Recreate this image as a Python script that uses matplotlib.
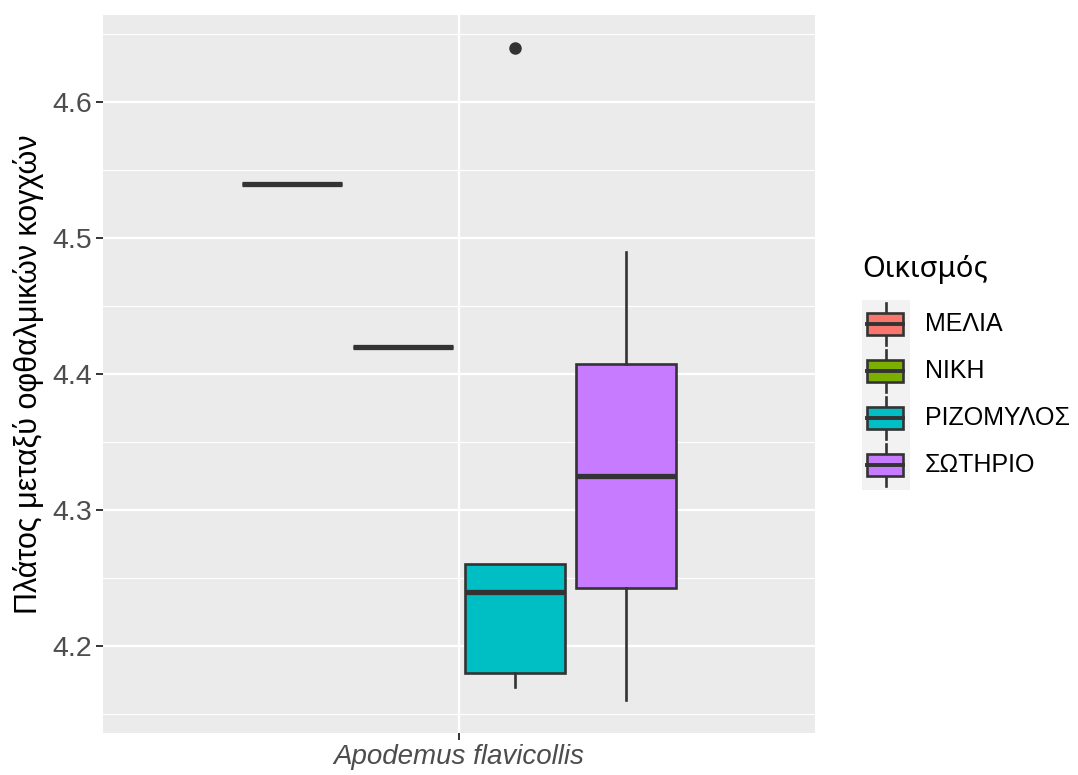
import matplotlib
matplotlib.use("Agg")
import matplotlib.pyplot as plt
from matplotlib.patches import Rectangle

plt.rcParams['font.family'] = ['Liberation Sans', 'DejaVu Sans']

# ---- data ----
category = "Apodemus flavicollis"
groups = ["ΜΕΛΙΑ", "ΝΙΚΗ", "ΡΙΖΟΜΥΛΟΣ", "ΣΩΤΗΡΙΟ"]
colors = ["#F8766D", "#7CAE00", "#00BFC4", "#C77CFF"]
whislo = [4.54, 4.42, 4.17, 4.16]
q1 = [4.54, 4.42, 4.18, 4.2425]
med = [4.54, 4.42, 4.24, 4.325]
q3 = [4.54, 4.42, 4.26, 4.4075]
whishi = [4.54, 4.42, 4.26, 4.49]
outliers = [[], [], [4.64], []]
yticks = [4.2, 4.3, 4.4, 4.5, 4.6]
ylabel = "Πλάτος μεταξύ οφθαλμικών κογχών"
legend_title = "Οικισμός"

W, H = 1078, 775
fig = plt.figure(figsize=(W / 100, H / 100), dpi=100)
fig.patch.set_facecolor("white")

def px_axes(x0, y0, x1, y1):
    return fig.add_axes([x0 / W, 1 - y1 / H, (x1 - x0) / W, (y1 - y0) / H])

ax = px_axes(103, 15, 815, 733)
ax.set_facecolor("#EBEBEB")
for s in ax.spines.values():
    s.set_visible(False)

ax.set_xlim(0.4, 1.6)
ax.set_ylim(4.136, 4.664)

# grid
for y in [4.15, 4.25, 4.35, 4.45, 4.55, 4.65]:
    ax.axhline(y, color="white", lw=0.8, zorder=0.5)
for y in yticks:
    ax.axhline(y, color="white", lw=1.6, zorder=0.6)
ax.axvline(1.0, color="white", lw=1.6, zorder=0.6)

n = len(groups)
dodge = 0.75 / n
offsets = [(i - (n - 1) / 2) * dodge for i in range(n)]
positions = [1 + o for o in offsets]
stats = []
for i in range(n):
    stats.append(dict(med=med[i], q1=q1[i], q3=q3[i], whislo=whislo[i],
                      whishi=whishi[i], fliers=outliers[i], label=groups[i]))

bp = ax.bxp(stats, positions=positions, widths=dodge * 0.9, patch_artist=True,
            showcaps=False, manage_ticks=False,
            boxprops=dict(edgecolor="#333333", linewidth=1.9),
            whiskerprops=dict(color="#333333", linewidth=1.9),
            medianprops=dict(color="#333333", linewidth=3.8, solid_capstyle="butt"),
            flierprops=dict(marker="o", markerfacecolor="#333333",
                            markeredgecolor="#333333", markersize=8))
for patch, c in zip(bp["boxes"], colors):
    patch.set_facecolor(c)
    patch.set_zorder(2)
for m in bp["medians"]:
    m.set_zorder(3)

ax.set_xticks([1.0])
ax.set_xticklabels([category], fontstyle="italic", fontsize=20, color="#4D4D4D")
ax.set_yticks(yticks)
ax.set_yticklabels([f"{v:.1f}" for v in yticks], fontsize=20.5, color="#4D4D4D")
ax.tick_params(axis="both", color="#333333", length=5, width=1.4, pad=3)
ax.set_ylabel(ylabel, fontsize=22, color="black", labelpad=6)

# ---- legend ----
fig.text(862 / W, 1 - 270 / H, legend_title, fontsize=21,
         family=["Noto Sans", "DejaVu Sans"], ha="left", va="center")
lax = px_axes(862, 300, 910, 490)
lax.set_xlim(0, 48)
lax.set_ylim(190, 0)
lax.axis("off")
lax.add_patch(Rectangle((0, 0), 48, 190, facecolor="#F2F2F2", edgecolor="none"))
centers = [24, 71, 118, 165]
for c, col, g in zip(centers, colors, groups):
    lax.plot([24, 24], [c - 21, c + 21], color="#333333", lw=1.9)
    lax.add_patch(Rectangle((5, c - 11), 36, 22, facecolor=col,
                            edgecolor="#333333", lw=1.9, zorder=3))
    lax.plot([5, 41], [c, c], color="#333333", lw=2.8, zorder=4)
    fig.text(925 / W, 1 - (300 + c) / H, g, fontsize=18, ha="left", va="center")

fig.savefig("out.png", dpi=100)
